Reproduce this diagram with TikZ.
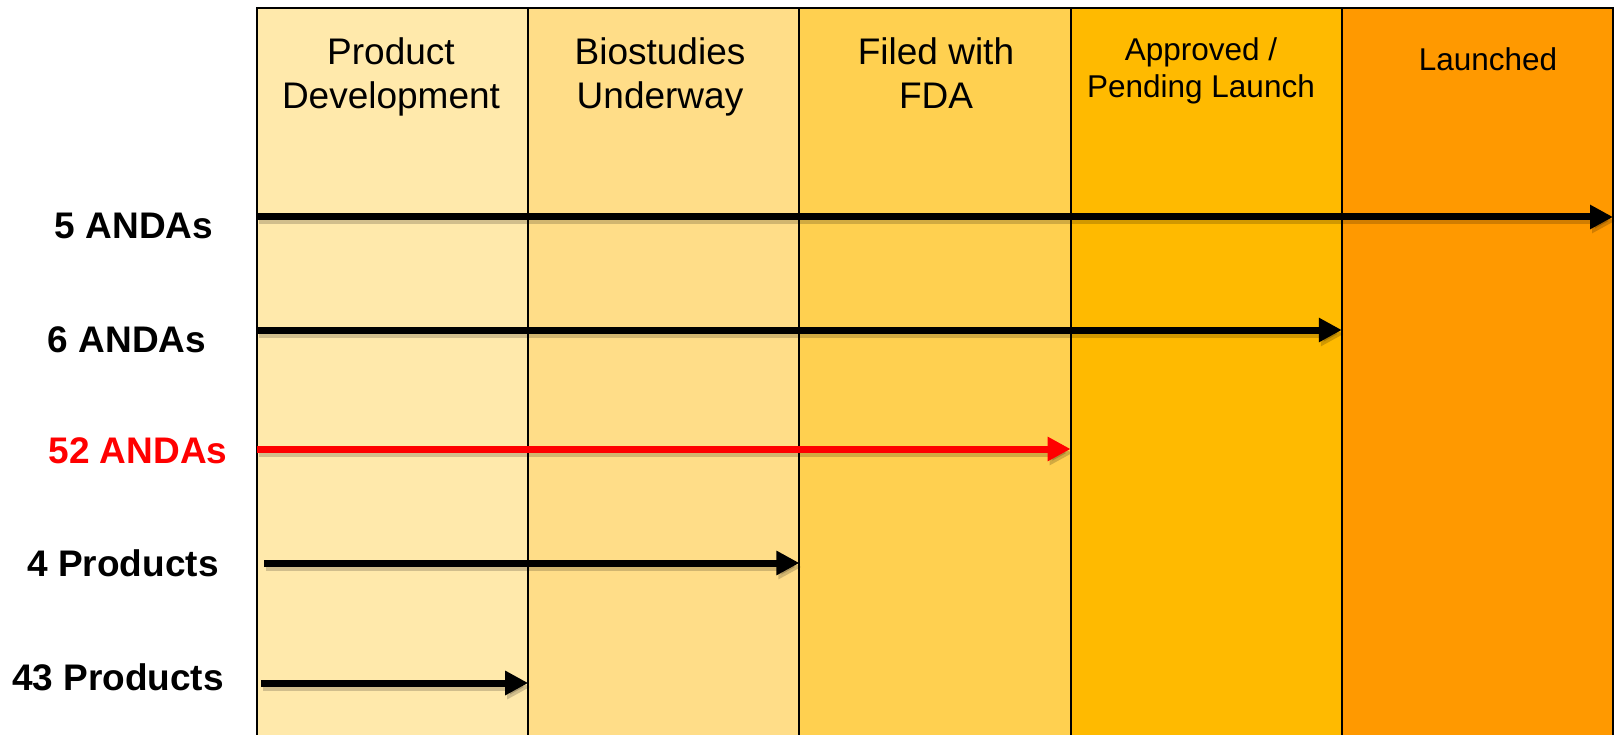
\documentclass[tikz,border=0pt]{standalone}
\usepackage{fontspec}
\setmainfont{Liberation Sans}
\usetikzlibrary{arrows.meta}
\definecolor{cA}{HTML}{FFE9AB}
\definecolor{cB}{HTML}{FFDD88}
\definecolor{cC}{HTML}{FFD050}
\definecolor{cD}{HTML}{FFBA00}
\definecolor{cE}{HTML}{FF9900}
\definecolor{cRed}{HTML}{FF0000}
\tikzset{
  col/.style={draw=black, line width=2pt, anchor=north west, minimum width=271.2pt, minimum height=740pt, inner sep=0pt, outer sep=0pt},
  head/.style={align=center, anchor=north, inner sep=0pt, font=\fontsize{37}{44}\selectfont},
  headsmall/.style={align=center, anchor=north, inner sep=0pt, font=\fontsize{31.5}{37}\selectfont},
  lab/.style={anchor=base, inner sep=0pt, font=\fontsize{37}{44}\selectfont\bfseries},
  arr/.style={line width=7pt, -{Triangle[length=23pt,width=23pt]}},
  shad/.style={line width=7pt, -{Triangle[length=23pt,width=23pt]}, draw=black, opacity=0.18, transform canvas={shift={(2pt,-4pt)}}},
}
\begin{document}
\begin{tikzpicture}[x=1pt,y=-1pt]
\useasboundingbox (0,0) rectangle (1616,735);
\fill[white] (0,0) rectangle (1616,735);
\node[col, fill=cA] (c1) at (257,8) {};
\node[col, fill=cB] (c2) at (528.2,8) {};
\node[col, fill=cC] (c3) at (799.4,8) {};
\node[col, fill=cD] (c4) at (1070.6,8) {};
\node[col, fill=cE] (c5) at (1341.8,8) {};
% headers
\node[head] (h1) at (391,37) {Product\\Development};
\node[head] (h2) at (660,37) {Biostudies\\Underway};
\node[head] (h3) at (936,37) {Filed with\\FDA};
\node[headsmall] (h4) at (1201,37) {Approved /\\Pending Launch};
\node[headsmall] (h5) at (1488,47) {Launched};
% row labels
\node[lab] (l1) at (134,239) {5 ANDAs};
\node[lab] (l2) at (127,352) {6 ANDAs};
\node[lab, text=cRed] (l3) at (138,463) {52 ANDAs};
\node[lab] (l4) at (123,576) {4 Products};
\node[lab] (l5) at (118,690) {43 Products};
% arrow coordinates
\coordinate (s1) at (257,217);
\coordinate (s2) at (257,330);
\coordinate (s3) at (257,449);
\coordinate (s4) at (264,563);
\coordinate (s5) at (261,683);
\coordinate (e1) at (c5.east |- s1);
\coordinate (e2) at (c5.west |- s2);
\coordinate (e3) at (c4.west |- s3);
\coordinate (e4) at (c3.west |- s4);
\coordinate (e5) at (c2.west |- s5);
% shadows
\draw[shad] (s1) -- (e1);
\draw[shad] (s2) -- (e2);
\draw[shad] (s3) -- (e3);
\draw[shad] (s4) -- (e4);
\draw[shad] (s5) -- (e5);
% arrows
\draw[arr] (s1) -- (e1);
\draw[arr] (s2) -- (e2);
\draw[arr, draw=cRed, fill=cRed] (s3) -- (e3);
\draw[arr] (s4) -- (e4);
\draw[arr] (s5) -- (e5);
\end{tikzpicture}
\end{document}
